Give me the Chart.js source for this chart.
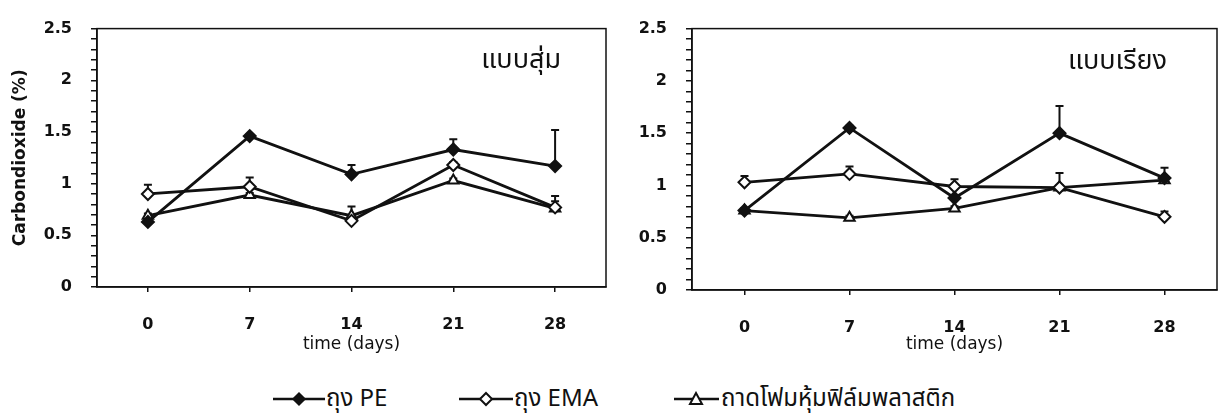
<!DOCTYPE html>
<html lang="th">
<head>
<meta charset="UTF-8">
<title>Carbondioxide</title>
<script src="https://cdn.jsdelivr.net/npm/chart.js"></script>
<style>
    body {
        margin: 0;
        background: #fff;
        width: 1228px;
        height: 415px;
        position: relative;
        overflow: hidden;
        font-family: "Noto Sans Thai", "Noto Sans", "DejaVu Sans", sans-serif;
        color: #111;
    }
    .box { position: absolute; top: 0; width: 614px; height: 360px; }
    #legend { position: absolute; top: 384px; left: 0; width: 1228px; height: 30px; }
    .sym { position: absolute; top: 7px; }
    .lab { position: absolute; top: 0; font-size: 24px; line-height: 30px; white-space: nowrap; }
</style>
</head>
<body>

<div class="box" style="left:0"><canvas id="leftChart" width="614" height="360"></canvas></div>
<div class="box" style="left:614px"><canvas id="rightChart" width="614" height="360"></canvas></div>

<div id="legend">
    <svg class="sym" style="left:273px" width="52" height="16">
        <line x1="0" y1="8" x2="52" y2="8" stroke="#111" stroke-width="2.5"/>
        <polygon points="26,2 32,8 26,14 20,8" fill="#111" stroke="#111" stroke-width="1.5"/>
    </svg>
    <span class="lab" style="left:326px">ถุง PE</span>
    <svg class="sym" style="left:459px" width="54" height="16">
        <line x1="0" y1="8" x2="54" y2="8" stroke="#111" stroke-width="2.5"/>
        <polygon points="27,2 33,8 27,14 21,8" fill="#fff" stroke="#111" stroke-width="2"/>
    </svg>
    <span class="lab" style="left:514px">ถุง EMA</span>
    <svg class="sym" style="left:674px" width="45" height="16">
        <line x1="0" y1="8" x2="45" y2="8" stroke="#111" stroke-width="2.5"/>
        <polygon points="22,2 28,13 16,13" fill="#fff" stroke="#111" stroke-width="2"/>
    </svg>
    <span class="lab" style="left:721px">ถาดโฟมหุ้มฟิล์มพลาสติก</span>
</div>

<script>
    // days of storage
    const days = ['0', '7', '14', '21', '28'];

    // แบบสุ่ม (random packing)
    const randomPE = [0.63, 1.46, 1.09, 1.33, 1.17];
    const randomPEErr = [0.02, 0.02, 0.09, 0.10, 0.35];
    const randomEMA = [0.90, 0.97, 0.64, 1.18, 0.77];
    const randomEMAErr = [0.09, 0.09, 0.03, 0.03, 0.11];
    const randomFoam = [0.69, 0.89, 0.69, 1.03, 0.76];
    const randomFoamErr = [0.02, 0.02, 0.09, 0.02, 0.07];

    // แบบเรียง (arranged packing)
    const rowPE = [0.76, 1.55, 0.88, 1.50, 1.07];
    const rowPEErr = [0.02, 0.02, 0.02, 0.26, 0.10];
    const rowEMA = [1.03, 1.11, 0.99, 0.98, 0.70];
    const rowEMAErr = [0.06, 0.07, 0.07, 0.02, 0.05];
    const rowFoam = [0.76, 0.69, 0.78, 0.98, 1.05];
    const rowFoamErr = [0.02, 0.02, 0.02, 0.14, 0.03];

    const seriesNames = ['ถุง PE', 'ถุง EMA', 'ถาดโฟมหุ้มฟิล์มพลาสติก'];
    const yTicks = [0, 0.5, 1, 1.5, 2, 2.5];

    const ink = '#111';
    Chart.defaults.font.family = '"DejaVu Sans", sans-serif';
    Chart.defaults.color = ink;

    // box round the plot area
    const frame = {
        id: 'frame',
        afterDraw(chart) {
            const { ctx, chartArea: a } = chart;
            ctx.save();
            ctx.strokeStyle = ink;
            ctx.lineWidth = 1.5;
            ctx.strokeRect(a.left, a.top, a.right - a.left, a.bottom - a.top);
            ctx.restore();
        }
    };

    // upward error bars, drawn under the markers
    const errorBars = {
        id: 'errorBars',
        beforeDatasetsDraw(chart) {
            const { ctx } = chart;
            const y = chart.scales.y;
            ctx.save();
            ctx.strokeStyle = ink;
            ctx.lineWidth = 2;
            chart.data.datasets.forEach((ds, i) => {
                const meta = chart.getDatasetMeta(i);
                meta.data.forEach((pt, j) => {
                    const top = y.getPixelForValue(ds.data[j] + ds.err[j]);
                    ctx.beginPath();
                    ctx.moveTo(pt.x, pt.y);
                    ctx.lineTo(pt.x, top);
                    ctx.moveTo(pt.x - 4, top);
                    ctx.lineTo(pt.x + 4, top);
                    ctx.stroke();
                });
            });
            ctx.restore();
        }
    };

    // panel caption in the upper right corner
    const caption = {
        id: 'caption',
        afterDraw(chart, args, opts) {
            const { ctx, chartArea: a } = chart;
            ctx.save();
            ctx.font = '27px "Noto Sans Thai", "Noto Sans", sans-serif';
            ctx.fillStyle = ink;
            ctx.textAlign = 'right';
            ctx.textBaseline = 'alphabetic';
            ctx.fillText(opts.text, a.right - opts.dx, a.top + opts.dy);
            ctx.restore();
        }
    };

    function makeChart(id, pe, peErr, ema, emaErr, foam, foamErr, label, yWidth, xHeight, rightPad, showTitle) {
        const line = { borderColor: ink, borderWidth: 2.8, pointRadius: 6, pointHoverRadius: 6, pointBorderWidth: 2, pointBorderColor: ink, tension: 0 };
        return new Chart(document.getElementById(id), {
            type: 'line',
            data: {
                labels: days,
                datasets: [
                    { ...line, label: seriesNames[0], data: pe, err: peErr, pointStyle: 'rectRot', pointBackgroundColor: ink },
                    { ...line, label: seriesNames[1], data: ema, err: emaErr, pointStyle: 'rectRot', pointBackgroundColor: '#fff' },
                    { ...line, label: seriesNames[2], data: foam, err: foamErr, pointStyle: 'triangle', pointBackgroundColor: '#fff', pointRadius: 6 }
                ]
            },
            options: {
                responsive: false,
                animation: false,
                layout: { padding: { top: 15, right: rightPad, left: 0, bottom: 0 } },
                plugins: {
                    legend: { display: false },
                    tooltip: { enabled: false },
                    caption: label
                },
                scales: {
                    x: {
                        offset: true,
                        grid: { drawOnChartArea: false, tickLength: 5, color: ink, lineWidth: 1.5 },
                        border: { color: ink, width: 1.5 },
                        ticks: { padding: 23, font: { size: 16, weight: 'bold' } },
                        title: { display: true, text: 'time (days)', font: { size: 17 }, padding: { top: 0, bottom: 5 } },
                        afterFit: s => { s.height = xHeight; }
                    },
                    y: {
                        min: 0,
                        max: 2.5,
                        grid: { drawOnChartArea: false, tickLength: 6, color: ink, lineWidth: 1.5 },
                        border: { color: ink, width: 1.5 },
                        ticks: {
                            stepSize: 0.1,
                            maxTicksLimit: 40,
                            autoSkip: false,
                            padding: 19,
                            font: { size: 16, weight: 'bold' },
                            callback: v => {
                                const hit = yTicks.find(t => Math.abs(t - v) < 1e-6);
                                return hit === undefined ? '' : String(hit);
                            }
                        },
                        title: { display: showTitle, text: 'Carbondioxide (%)', font: { size: 17, weight: 'bold' }, padding: { top: 10, bottom: 0 } },
                        afterFit: s => { s.width = yWidth; }
                    }
                }
            },
            plugins: [frame, errorBars, caption]
        });
    }

    makeChart('leftChart', randomPE, randomPEErr, randomEMA, randomEMAErr, randomFoam, randomFoamErr,
        { text: 'แบบสุ่ม', dx: 45, dy: 39 }, 97, 73, 4, true);
    makeChart('rightChart', rowPE, rowPEErr, rowEMA, rowEMAErr, rowFoam, rowFoamErr,
        { text: 'แบบเรียง', dx: 50, dy: 40 }, 78, 70, 11, false);
</script>

</body>
</html>
